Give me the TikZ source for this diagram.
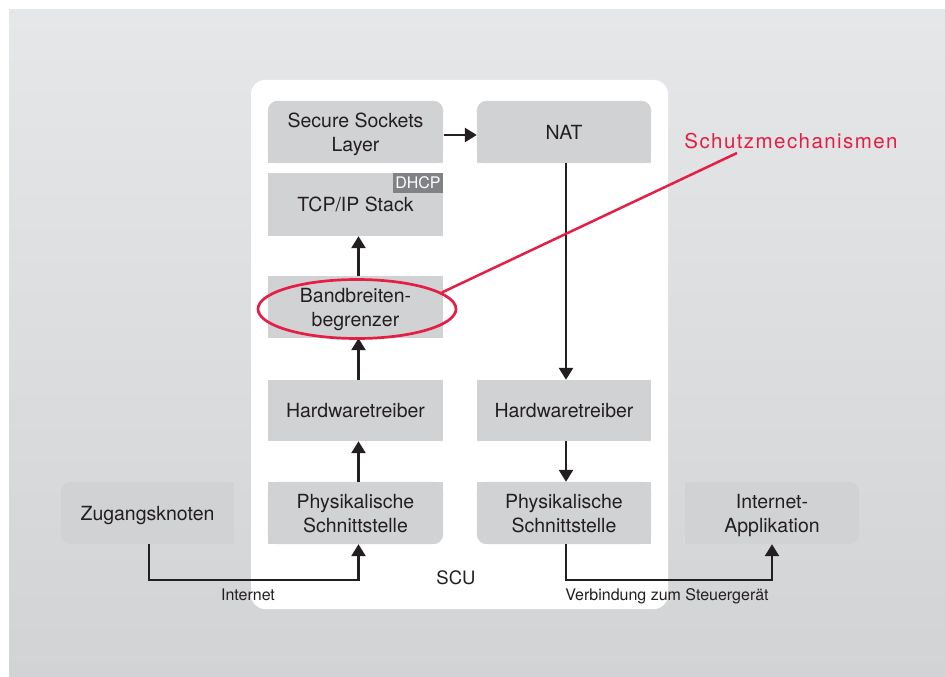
\documentclass[tikz,border=0pt]{standalone}
\usepackage{fontspec}
\setmainfont{TeX Gyre Heros}
\newfontfamily\redfont[LetterSpace=7]{TeX Gyre Heros}
\usetikzlibrary{arrows.meta,shapes.geometric}
\definecolor{bgtop}{HTML}{E6E7E9}
\definecolor{bgbot}{HTML}{D2D3D5}
\definecolor{boxgray}{HTML}{D1D2D4}
\definecolor{ink}{HTML}{231F20}
\definecolor{redc}{HTML}{E41E44}
\definecolor{dhcpgray}{HTML}{808285}
\pgfdeclarelayer{bg}
\pgfdeclarelayer{mid}
\pgfsetlayers{bg,mid,main}
\begin{document}
\begin{tikzpicture}[x=1pt,y=-1pt,
 box/.style={minimum width=175pt, minimum height=62pt, inner sep=0pt, align=center, text depth=0pt, text=ink, font=\fontsize{19.5}{24}\selectfont},
 conn/.style={draw=ink, line width=2.5pt},
 arr/.style={conn, -{Triangle[length=12pt,width=14pt]}},
 small/.style={anchor=base, text=ink, font=\fontsize{16}{19}\selectfont},
 fillbox/.style={fill=boxgray},
 fillround/.style={fill=boxgray, rounded corners=10pt},
]
\useasboundingbox (0,0) rectangle (945,677);

\begin{pgfonlayer}{bg}
\shade[top color=bgtop, bottom color=bgbot] (9,10) rectangle (945,677);
\node[fill=white, rounded corners=14pt, minimum width=417pt, minimum height=529pt, inner sep=0pt] (scu) at (459.5,344.5) {};
\end{pgfonlayer}

\node[box] (ssl) at (355.5,132) {Secure Sockets\\Layer};
\node[box, minimum width=174pt] (nat) at (564,132) {NAT};
\node[box, minimum height=63pt] (tcp) at (355.5,204.5) {TCP/IP Stack};
\node[box] (band) at (355.5,307) {Bandbreiten-\\begrenzer};
\node[box, minimum height=61pt] (hwl) at (355.5,410.5) {Hardwaretreiber};
\node[box, minimum width=174pt, minimum height=61pt] (hwr) at (564,410.5) {Hardwaretreiber};
\node[box] (physl) at (355.5,513) {Physikalische\\Schnittstelle};
\node[box, minimum width=174pt] (physr) at (564,513) {Physikalische\\Schnittstelle};
\node[box, minimum width=173pt] (zug) at (147.5,513) {Zugangsknoten};
\node[box, minimum width=174pt] (iapp) at (772,513) {Internet-\\Applikation};

\node[fill=dhcpgray, text=white, anchor=north east, minimum width=50pt, minimum height=20pt, inner sep=0pt, font=\fontsize{16}{19}\selectfont] (dhcp) at (tcp.north east) {DHCP};

\node[anchor=base, text=ink, font=\fontsize{18.5}{22}\selectfont] (scul) at (456,584) {SCU};

\begin{pgfonlayer}{mid}
% top rounded
\fill[fillround] (ssl.south west) rectangle (ssl.north east);
\fill[fillbox] (ssl.south west) rectangle (ssl.east);
\fill[fillround] (nat.south west) rectangle (nat.north east);
\fill[fillbox] (nat.south west) rectangle (nat.east);
% sharp
\fill[fillbox] (tcp.south west) rectangle (tcp.north east);
\fill[fillbox] (band.south west) rectangle (band.north east);
\fill[fillbox] (hwl.south west) rectangle (hwl.north east);
\fill[fillbox] (hwr.south west) rectangle (hwr.north east);
% physl: bottom-right rounded
\fill[fillround] (physl.south west) rectangle (physl.north east);
\fill[fillbox] (physl.south west) rectangle (physl.north);
\fill[fillbox] (physl.west) rectangle (physl.north east);
% physr: bottom-left rounded
\fill[fillround] (physr.south west) rectangle (physr.north east);
\fill[fillbox] (physr.south) rectangle (physr.north east);
\fill[fillbox] (physr.west) rectangle (physr.north east);
% zug: left corners rounded
\fill[fillround] (zug.south west) rectangle (zug.north east);
\fill[fillbox] (zug.south) rectangle (zug.north east);
% iapp: right corners rounded
\fill[fillround] (iapp.south west) rectangle (iapp.north east);
\fill[fillbox] (iapp.south west) rectangle (iapp.north);
\end{pgfonlayer}

% connectors
\draw[arr] ([xshift=3pt]band.north) -- ([xshift=3pt]tcp.south);
\draw[arr] ([xshift=3pt]hwl.north) -- ([xshift=3pt]band.south);
\draw[arr] ([xshift=3pt]physl.north) -- ([xshift=3pt]hwl.south);
\draw[arr] ([xshift=1pt,yshift=-3pt]ssl.east) -- ([yshift=-3pt]nat.west);
\draw[arr] ([xshift=2pt]nat.south) -- ([xshift=2pt]hwr.north);
\draw[arr] ([xshift=2pt]hwr.south) -- ([xshift=2pt]physr.north);
\draw[arr] ([xshift=1.5pt]zug.south) -- ++(0,36) -| ([xshift=3pt]physl.south);
\draw[arr] ([xshift=2pt]physr.south) -- ++(0,36) -| (iapp.south);

\node[small] (inet) at (248,600) {Internet};
\node[small] (verb) at (667,600) {Verbindung zum Steuergerät};

% protection highlight
\node[ellipse, draw=redc, line width=2.7pt, minimum width=198pt, minimum height=59pt, inner sep=0pt] (ell) at (357,309) {};
\coordinate (lineend) at (737,153);
\draw[redc, line width=2.5pt] (ell.11) -- (lineend);
\node[anchor=base, text=redc, font=\redfont\fontsize{20.5}{24}\selectfont] (schutz) at (791,148) {Schutzmechanismen};
\end{tikzpicture}
\end{document}
